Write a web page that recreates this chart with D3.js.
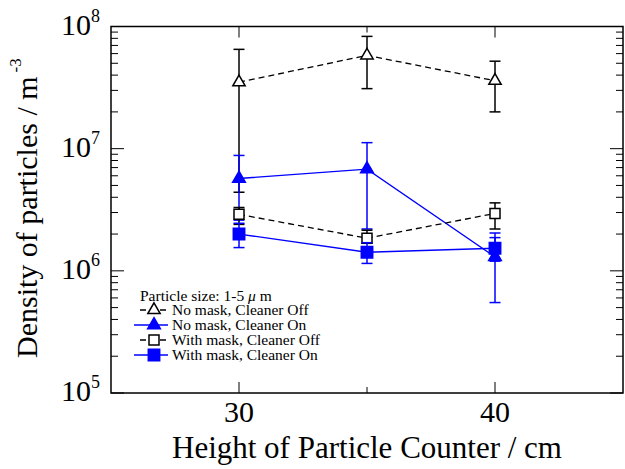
<!DOCTYPE html>
<html>
<head>
<meta charset="utf-8">
<script src="https://cdn.jsdelivr.net/npm/d3@7"></script>
<style>
  body { margin: 0; background: #fff; }
  text { font-family: "Liberation Serif", "Times New Roman", serif; fill: #000; }
</style>
</head>
<body>
<div id="chart"></div>
<script>
// data
var heights = [30, 35, 40];

var noMaskOff = [3.5e7, 5.8e7, 3.6e7];
var noMaskOffHi = [6.5e7, 8.3e7, 5.2e7];
var noMaskOffLo = [4.4e6, 3.1e7, 2.0e7];

var noMaskOn = [5.7e6, 6.8e6, 1.3e6];
var noMaskOnHi = [8.8e6, 1.12e7, 2.04e6];
var noMaskOnLo = [2.6e6, 2.2e6, 5.5e5];

var maskOff = [2.9e6, 1.85e6, 2.95e6];
var maskOffHi = [3.3e6, 2.15e6, 3.6e6];
var maskOffLo = [2.4e6, 1.68e6, 2.2e6];

var maskOn = [2.0e6, 1.42e6, 1.53e6];
var maskOnHi = [2.45e6, 1.7e6, 1.87e6];
var maskOnLo = [1.55e6, 1.15e6, 1.2e6];

var seriesNames = ["No mask, Cleaner Off", "No mask, Cleaner On", "With mask, Cleaner Off", "With mask, Cleaner On"];
var xTicks = [30, 40];
var yDecades = [5, 6, 7, 8];

// dimensions
var svgWidth = 625;
var svgHeight = 469;
var margin = { top: 26.5, right: 2, bottom: 76, left: 111 };
var width = svgWidth - margin.left - margin.right;
var height = svgHeight - margin.top - margin.bottom;

var svg = d3.select("#chart")
    .append("svg")
    .attr("width", svgWidth)
    .attr("height", svgHeight);

var g = svg.append("g")
    .attr("transform", "translate(" + margin.left + "," + margin.top + ")");

var x = d3.scaleLinear().domain([25, 45]).range([0, width]);
var y = d3.scaleLog().domain([1e5, 1e8]).range([height, 0]);

// frame
g.append("rect")
    .attr("width", width)
    .attr("height", height)
    .attr("fill", "none")
    .attr("stroke", "#000")
    .attr("stroke-width", 1.5);

// y ticks (inward, both sides)
var minorY = [];
for (var d = 5; d < 8; d++) {
    for (var m = 2; m <= 9; m++) minorY.push(m * Math.pow(10, d));
}
var majorY = yDecades.map(function (e) { return Math.pow(10, e); });

[0, width].forEach(function (side) {
    var dir = side === 0 ? 1 : -1;
    g.selectAll(null).data(minorY).enter().append("line")
        .attr("x1", side).attr("x2", side + dir * 7)
        .attr("y1", function (v) { return y(v); })
        .attr("y2", function (v) { return y(v); })
        .attr("stroke", "#000").attr("stroke-width", 1);
    g.selectAll(null).data(majorY).enter().append("line")
        .attr("x1", side).attr("x2", side + dir * 13)
        .attr("y1", function (v) { return y(v); })
        .attr("y2", function (v) { return y(v); })
        .attr("stroke", "#000").attr("stroke-width", 1);
});

// x ticks (inward, top and bottom)
[0, height].forEach(function (side) {
    var dir = side === 0 ? 1 : -1;
    g.selectAll(null).data([30, 40]).enter().append("line")
        .attr("x1", function (v) { return x(v); })
        .attr("x2", function (v) { return x(v); })
        .attr("y1", side).attr("y2", side + dir * 11)
        .attr("stroke", "#000").attr("stroke-width", 1);
    g.selectAll(null).data([35]).enter().append("line")
        .attr("x1", function (v) { return x(v); })
        .attr("x2", function (v) { return x(v); })
        .attr("y1", side).attr("y2", side + dir * 6)
        .attr("stroke", "#000").attr("stroke-width", 1);
});

// x tick labels
g.selectAll(null).data(xTicks).enter().append("text")
    .attr("x", function (v) { return x(v); })
    .attr("y", height + 29)
    .attr("text-anchor", "middle")
    .style("font-size", "30px")
    .text(function (v) { return v; });

// y tick labels 10^n
var yl = g.selectAll(null).data(yDecades).enter().append("text")
    .attr("x", -11)
    .attr("y", function (e) { return y(Math.pow(10, e)) + 8; })
    .attr("text-anchor", "end")
    .style("font-size", "30px");
yl.append("tspan").text("10");
yl.append("tspan")
    .attr("dy", -13)
    .style("font-size", "18px")
    .text(function (e) { return e; });

// axis titles
svg.append("text")
    .attr("x", margin.left + width / 2)
    .attr("y", 458)
    .attr("text-anchor", "middle")
    .style("font-size", "31px")
    .text("Height of Particle Counter / cm");

var yt = svg.append("text")
    .attr("transform", "translate(37,358) rotate(-90)")
    .attr("text-anchor", "start")
    .style("font-size", "30px");
yt.append("tspan").text("Density of particles / m");
yt.append("tspan")
    .attr("dx", 4)
    .attr("dy", -16)
    .style("font-size", "17px")
    .text("-3");

// series
var series = [
    { name: seriesNames[0], v: noMaskOff, hi: noMaskOffHi, lo: noMaskOffLo, color: "#000", dash: "6,4", shape: d3.symbolTriangle, fill: "#fff", size: 66 },
    { name: seriesNames[1], v: noMaskOn, hi: noMaskOnHi, lo: noMaskOnLo, color: "#0000ff", dash: null, shape: d3.symbolTriangle, fill: "#0000ff", size: 70 },
    { name: seriesNames[2], v: maskOff, hi: maskOffHi, lo: maskOffLo, color: "#000", dash: "6,4", shape: d3.symbolSquare, fill: "#fff", size: 100 },
    { name: seriesNames[3], v: maskOn, hi: maskOnHi, lo: maskOnLo, color: "#0000ff", dash: null, shape: d3.symbolSquare, fill: "#0000ff", size: 130 }
];

var line = d3.line()
    .x(function (d) { return x(d.h); })
    .y(function (d) { return y(d.v); });

series.forEach(function (s) {
    var pts = heights.map(function (h, i) { return { h: h, v: s.v[i], hi: s.hi[i], lo: s.lo[i] }; });
    var sg = g.append("g");

    sg.append("path")
        .datum(pts)
        .attr("d", line)
        .attr("fill", "none")
        .attr("stroke", s.color)
        .attr("stroke-width", 1.3)
        .attr("stroke-dasharray", s.dash);

    var eb = sg.selectAll(null).data(pts).enter().append("g");
    eb.append("line")
        .attr("x1", function (d) { return x(d.h); })
        .attr("x2", function (d) { return x(d.h); })
        .attr("y1", function (d) { return y(d.hi); })
        .attr("y2", function (d) { return y(d.lo); })
        .attr("stroke", s.color).attr("stroke-width", 1.5);
    ["hi", "lo"].forEach(function (k) {
        eb.append("line")
            .attr("x1", function (d) { return x(d.h) - 5.5; })
            .attr("x2", function (d) { return x(d.h) + 5.5; })
            .attr("y1", function (d) { return y(d[k]); })
            .attr("y2", function (d) { return y(d[k]); })
            .attr("stroke", s.color).attr("stroke-width", 1.5);
    });

    sg.selectAll(null).data(pts).enter().append("path")
        .attr("d", d3.symbol().type(s.shape).size(s.size))
        .attr("transform", function (d) { return "translate(" + x(d.h) + "," + y(d.v) + ")"; })
        .attr("fill", s.fill)
        .attr("stroke", s.color)
        .attr("stroke-width", 1.5);
});

// legend
var lg = svg.append("g");
var title = lg.append("text")
    .attr("x", 140)
    .attr("y", 301)
    .style("font-size", "15.5px");
title.append("tspan").text("Particle size: 1-5 ");
title.append("tspan").style("font-style", "italic").text("\u03bc");
title.append("tspan").text(" m");

series.forEach(function (s, i) {
    var cy = 310 + i * 15;
    lg.append("line")
        .attr("x1", s.dash ? 140 : 134)
        .attr("x2", 168)
        .attr("y1", cy).attr("y2", cy)
        .attr("stroke", s.color)
        .attr("stroke-width", 1.3)
        .attr("stroke-dasharray", s.dash);
    lg.append("path")
        .attr("d", d3.symbol().type(s.shape).size(s.size))
        .attr("transform", "translate(154," + cy + ")")
        .attr("fill", s.fill)
        .attr("stroke", s.color)
        .attr("stroke-width", 1.5);
    lg.append("text")
        .attr("x", 172)
        .attr("y", cy + 5)
        .style("font-size", "15.5px")
        .text(s.name);
});
</script>
</body>
</html>
